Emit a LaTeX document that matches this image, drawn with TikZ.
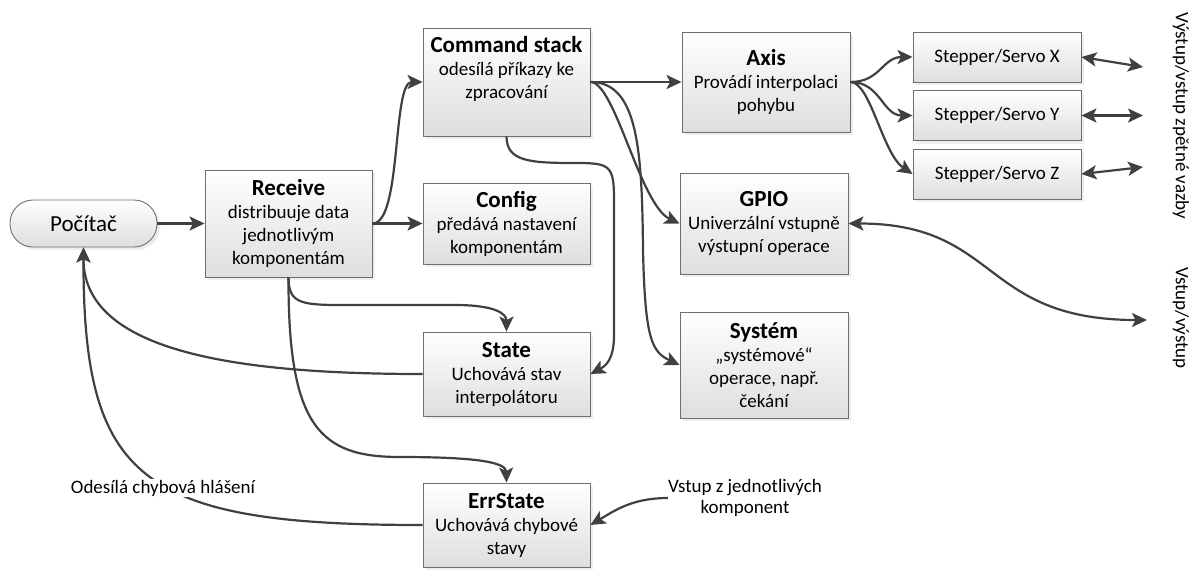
\documentclass[tikz,border=0pt]{standalone}
\usepackage{fontspec}
\setmainfont{Carlito}
\usetikzlibrary{arrows.meta,shadows}
\definecolor{linegray}{RGB}{64,64,64}
\definecolor{boxline}{RGB}{110,110,110}
\definecolor{boxfill}{RGB}{222,222,222}
\newcommand{\boxtitle}[1]{{\fontsize{23}{26}\selectfont\bfseries #1}}

\begin{document}
\begin{tikzpicture}[x=1pt,y=-1pt]
\tikzstyle{box}=[rectangle, draw=boxline, line width=0.9pt, top color=white, bottom color=boxfill, drop shadow={shadow xshift=3pt,shadow yshift=-3pt,fill=black!14}, minimum width=167pt, inner sep=2pt, align=center, font=\fontsize{19}{23}\selectfont]
\tikzstyle{conn}=[draw=linegray, line width=2.2pt, -{Stealth[length=15pt,width=14pt,inset=3.5pt]}]
\tikzstyle{both}=[conn, {Stealth[length=15pt,width=14pt,inset=3.5pt]}-{Stealth[length=15pt,width=14pt,inset=3.5pt]}]
\tikzstyle{note}=[align=center, inner sep=0pt, font=\fontsize{19}{20.5}\selectfont]

\useasboundingbox (0,0) rectangle (1190,571);

% Computer
\draw node at (83.5,223.5) [box, rounded corners=23pt, minimum width=147pt, minimum height=47pt, font=\fontsize{23}{26}\selectfont] (poc) {Počítač};

% Receive
\node at (288.5,223.5) [box, minimum height=107pt] (recv) {\boxtitle{Receive}\\distribuuje data\\jednotlivým\\komponentám};

% Components
\node at (506.5,82) [box, minimum height=108pt] (cmd) {\boxtitle{Command stack}\\odesílá příkazy ke\\zpracování\\\strut};
\node at (506.5,223.5) [box, minimum height=81pt] (cfg) {\boxtitle{Config}\\předává nastavení\\komponentám};
\node at (506.5,374) [box, minimum height=84pt] (state) {\boxtitle{State}\\Uchovává stav\\interpolátoru};
\node at (506.5,525) [box, minimum height=84pt] (err) {\boxtitle{ErrState}\\Uchovává chybové\\stavy};

% Outputs of command stack
\node at (766,82) [box, minimum width=168pt, minimum height=100pt] (axis) {\boxtitle{Axis}\\Provádí interpolaci\\pohybu};
\node at (764,223.5) [box, minimum width=168pt, minimum height=101pt] (gpio) {\boxtitle{GPIO}\\Univerzální vstupně\\výstupní operace};
\node at (764,365) [box, minimum width=168pt, minimum height=106pt] (sys) {\boxtitle{Systém}\\„systémové“\\operace, např.\\čekání};

% Drivers
\foreach \s/\y in {X/57,Y/115.5,Z/174}
\node at (997,\y) [box, minimum width=168pt, minimum height=50pt] (step_\s) {Stepper/Servo \s};

% Computer -> Receive -> components
\draw [conn] (poc.east) -- (recv.west);
\draw [conn] (recv.east) -- (cfg.west);
\draw [conn] (recv.east) .. controls (402,223.5) and (392,82) .. (cmd.west);
\draw [conn] (recv.south) .. controls +(0,25) and +(-40,0) .. (340,305) -- (455,305) .. controls +(40,0) and +(0,-18) .. (state.north);
\draw [conn] (recv.south) .. controls (288,427) and (320,457) .. (400,457) .. controls (475,457) and (506,462) .. (err.north);

% State, ErrState -> Computer
\draw [conn] (state.west) .. controls (230,374) and (83,350) .. (poc.south);
\draw [conn] (err.west) .. controls (140,525) and (83,480) .. (poc.south);
\node at (163,488) [note, fill=white, inner sep=1pt] (errmsg) {Odesílá chybová hlášení};

% Command stack -> outputs
\draw [conn] (cmd.east) -- (axis.west);
\draw [conn] (cmd.east) .. controls (615,82) and (640,205) .. (gpio.west);
\draw [conn] (cmd.east) .. controls (638,82) and (642,150) .. (643,250) .. controls (645,340) and (652,352) .. (sys.west);
\draw [conn] (cmd.south) .. controls +(0,25) and +(-45,0) .. (575,163) .. controls +(35,0) and +(0,-35) .. (614,200) -- (614,335) .. controls +(0,25) and +(15,-8) .. (state.east);

% Axis -> drivers
\foreach \s in {X,Y}
\draw [conn] (axis.east) .. controls +(30,0) and +(-30,0) .. (step_\s.west);
\draw [conn] (axis.east) .. controls +(20,0) and +(-30,-20) .. (step_Z.west);

% Feedback
\coordinate (out_X) at (1143,67);
\coordinate (out_Y) at (1143,115.5);
\coordinate (out_Z) at (1143,167);
\foreach \s in {X,Y,Z}
\draw [both] (step_\s.east) -- (out_\s);
\coordinate (io_out) at (1147,320);
\draw [both] (gpio.east) .. controls (1000,223.5) and (980,320) .. (io_out);

% Error input
\node at (745,498) [note] (compin) {Vstup z jednotlivých\\komponent};
\draw [conn] (compin.west) .. controls +(-35,0) and +(25,-15) .. (err.east);

%% Text
\node at (1181,116) [rotate=-90, font=\fontsize{19}{23}\selectfont, inner sep=0pt] (fbtext) {Výstup/vstup zpětné vazby};
\node at (1181,318) [rotate=-90, font=\fontsize{19}{23}\selectfont, inner sep=0pt] (iotext) {Vstup/výstup};
\end{tikzpicture}
\end{document}
